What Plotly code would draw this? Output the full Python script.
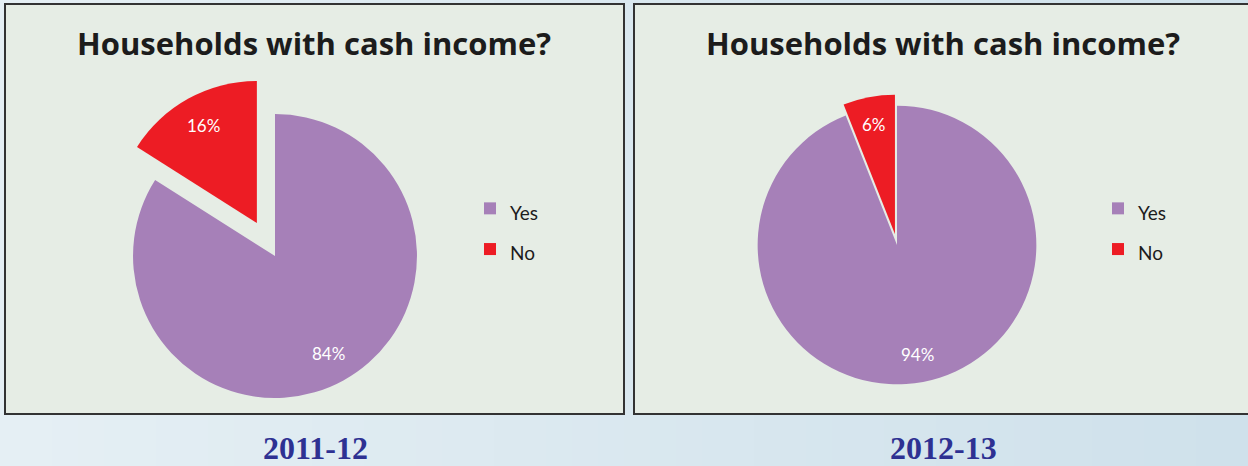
import math
import plotly.graph_objects as go

W, H = 1248, 466

labels = ["Yes", "No"]
values_2011 = [84, 16]
values_2012 = [94, 6]
pull_2011 = [0, 0.265]
pull_2012 = [0, 0.08]
slice_colors = ["#a680b8", "#ed1c24"]
chart_title = "Households with cash income?"
years = ["2011-12", "2012-13"]


def px_x(v):
    return v / W


def px_y(v):
    return 1 - v / H


fig = go.Figure()

# pie geometry in page pixels: centre and half-size of the square domain box
pies = [
    dict(values=values_2011, pull=pull_2011, cx=275, cy=256, half=179.6,
         legend="legend", label_r=0.78,
         tag='<span style="font-size:19px">%s</span>'),
    dict(values=values_2012, pull=pull_2012, cx=897, cy=245, half=150.5,
         legend="legend2", label_r=0.8,
         tag='<span style="font-size:19px;">%s</span>'),
]

annotations = []
for p in pies:
    r = p["half"] / (1 + max(p["pull"]))
    fig.add_trace(go.Pie(
        labels=[p["tag"] % l for l in labels], values=p["values"], sort=False,
        direction="clockwise", rotation=0, pull=p["pull"],
        marker=dict(colors=slice_colors, line=dict(width=0)),
        textinfo="none",
        domain=dict(x=[px_x(p["cx"] - p["half"]), px_x(p["cx"] + p["half"])],
                    y=[px_y(p["cy"] + p["half"]), px_y(p["cy"] - p["half"])]),
        legend=p["legend"], hoverinfo="label+percent",
    ))
    # percentage labels placed along each slice's mid-angle
    total = sum(p["values"])
    cum = 0
    for v, pl in zip(p["values"], p["pull"]):
        theta = 2 * math.pi * (cum + v / 2) / total
        cum += v
        dist = r * (pl + p["label_r"])
        lx = p["cx"] + dist * math.sin(theta)
        ly = p["cy"] - dist * math.cos(theta)
        annotations.append(dict(text="%d%%" % round(100 * v / total), xref="paper", yref="paper",
                                x=px_x(lx), y=px_y(ly), xanchor="center", yanchor="middle",
                                showarrow=False,
                                font=dict(family="Lato", size=17, color="white")))

shapes = []
# soft left-to-right background gradient
n_strips = 48
c0, c1 = (229, 239, 244), (207, 225, 235)
for i in range(n_strips):
    t = i / (n_strips - 1)
    col = "rgb(%d,%d,%d)" % tuple(round(a + (b - a) * t) for a, b in zip(c0, c1))
    shapes.append(dict(type="rect", xref="paper", yref="paper",
                       x0=i / n_strips, x1=(i + 1) / n_strips + 0.002, y0=0, y1=1,
                       fillcolor=col, line=dict(width=0), layer="below"))

# panel frames
for x0, x1 in [(5, 624), (634, 1252)]:
    shapes.append(dict(type="rect", xref="paper", yref="paper",
                       x0=px_x(x0), x1=px_x(x1), y0=px_y(414), y1=px_y(4),
                       fillcolor="#e6ede5", line=dict(color="#333333", width=2),
                       layer="below"))

for cx in [314, 943]:
    annotations.append(dict(text="<b>%s</b>" % chart_title, xref="paper", yref="paper",
                            x=px_x(cx), y=px_y(43), xanchor="center", yanchor="middle",
                            showarrow=False,
                            font=dict(family="Open Sans", size=31, color="#1c1c1c")))
for cx, yr in zip([315, 943], years):
    annotations.append(dict(text="<b>%s</b>" % yr, xref="paper", yref="paper",
                            x=px_x(cx), y=px_y(448), xanchor="center", yanchor="middle",
                            showarrow=False,
                            font=dict(family="Liberation Serif", size=32, color="#2e3192")))

legend_style = dict(font=dict(family="Lato", size=29, color="#1c1c1c"),
                    bgcolor="rgba(0,0,0,0)", xanchor="left", yanchor="middle",
                    itemwidth=30)

fig.update_layout(
    width=W, height=H,
    margin=dict(l=0, r=0, t=0, b=0),
    paper_bgcolor="#dde9f0",
    plot_bgcolor="#dde9f0",
    shapes=shapes,
    annotations=annotations,
    legend=dict(x=px_x(470), y=px_y(229), **legend_style),
    legend2=dict(x=px_x(1098), y=px_y(229), **legend_style),
)

fig.write_html("out.html")
